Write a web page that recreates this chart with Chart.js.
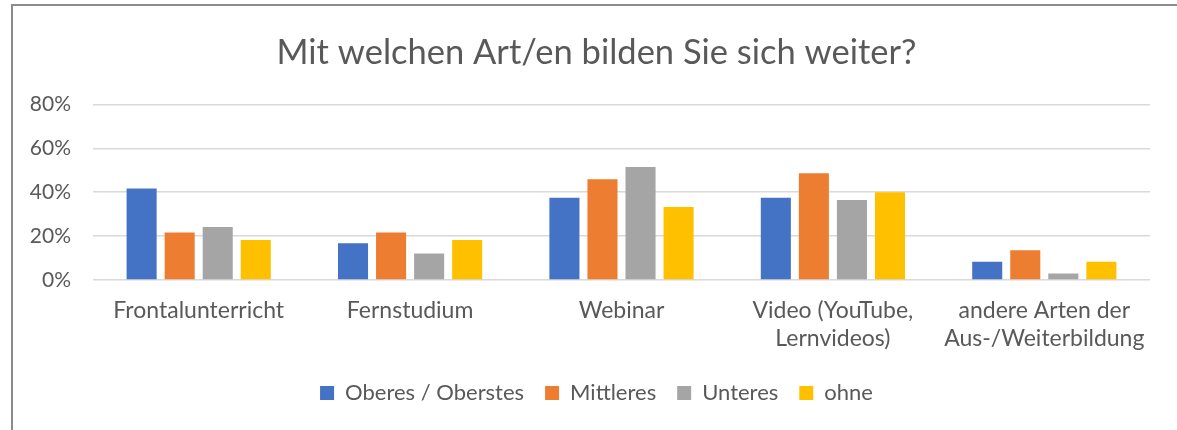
<!DOCTYPE html>
<html>
<head>
<meta charset="utf-8">
<script src="https://cdn.jsdelivr.net/npm/chart.js@4/dist/chart.umd.min.js"></script>
<style>
  html, body { margin: 0; padding: 0; background: #fff; }
  #wrap { position: relative; width: 1177px; height: 430px; }
  #rahmen {
    position: absolute; left: 11px; top: 4px; right: 0; bottom: 0;
    border-top: 2px solid #8c8c8c; border-left: 2px solid #8c8c8c;
    pointer-events: none;
  }
</style>
</head>
<body>
<div id="wrap">
  <canvas id="chart" width="1177" height="430"></canvas>
  <div id="rahmen"></div>
</div>
<script>
// Kategorien (Art der Weiterbildung)
const kategorien = [
    'Frontalunterricht',
    'Fernstudium',
    'Webinar',
    ['Video (YouTube,', 'Lernvideos)'],
    ['andere Arten der', 'Aus-/Weiterbildung']
];

// Werte in Prozent je Gruppe
const oberes = [41.7, 16.7, 37.5, 37.5, 8.3];
const mittleres = [21.6, 21.6, 45.9, 48.6, 13.5];
const unteres = [24.2, 12.1, 51.5, 36.4, 3.0];
const ohne = [18.2, 18.2, 33.3, 40.0, 8.3];

const yTicks = [0, 20, 40, 60, 80];

const schrift = 'Lato, "Open Sans", sans-serif';
const textFarbe = '#595959';

function balken(label, data, farbe) {
    return {
        label: label,
        data: data,
        backgroundColor: farbe,
        borderWidth: 0,
        categoryPercentage: 0.72,
        barPercentage: 0.79
    };
}

const ctx = document.getElementById('chart').getContext('2d');
new Chart(ctx, {
    type: 'bar',
    data: {
        labels: kategorien,
        datasets: [
            balken('Oberes / Oberstes', oberes, '#4472C4'),
            balken('Mittleres', mittleres, '#ED7D31'),
            balken('Unteres', unteres, '#A5A5A5'),
            balken('ohne', ohne, '#FFC000')
        ]
    },
    options: {
        responsive: false,
        animation: false,
        layout: { padding: { left: 16, right: 0, top: 0, bottom: 16 } },
        plugins: {
            title: {
                display: true,
                text: 'Mit welchen Art/en bilden Sie sich weiter?',
                color: textFarbe,
                font: { family: schrift, size: 34.5, weight: 'normal' },
                padding: { top: 32, bottom: 31 }
            },
            legend: {
                position: 'bottom',
                labels: {
                    color: textFarbe,
                    font: { family: schrift, size: 22 },
                    boxWidth: 14,
                    boxHeight: 14,
                    padding: 21
                }
            },
            tooltip: { enabled: false }
        },
        scales: {
            x: {
                grid: { display: false },
                border: { display: false },
                afterFit: function (scale) { scale.height = 81; },
                ticks: {
                    color: textFarbe,
                    font: { family: schrift, size: 23 },
                    maxRotation: 0,
                    autoSkip: false,
                    padding: 9
                }
            },
            y: {
                min: 0,
                max: 80,
                afterFit: function (scale) { scale.width = 77; },
                afterBuildTicks: function (scale) {
                    scale.ticks = yTicks.map(v => ({ value: v }));
                },
                grid: { color: '#d9d9d9', lineWidth: 1.5, drawTicks: false },
                border: { display: false },
                ticks: {
                    color: textFarbe,
                    font: { family: schrift, size: 21 },
                    padding: 22,
                    callback: v => v + '%'
                }
            },
            // leere Achse rechts, nur als Abstand
            rechts: {
                position: 'right',
                grid: { display: false },
                border: { display: false },
                ticks: { display: false },
                afterFit: function (scale) { scale.width = 27; }
            }
        }
    }
});
</script>
</body>
</html>
